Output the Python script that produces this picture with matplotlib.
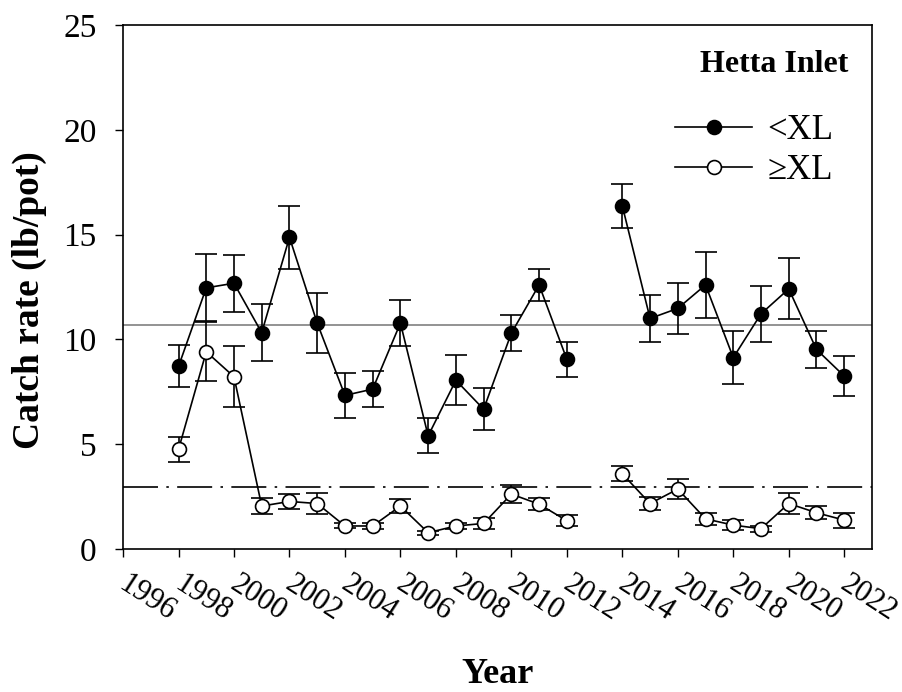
import matplotlib.pyplot as plt
from matplotlib.transforms import ScaledTranslation

plt.rcParams['font.family'] = ['Liberation Serif', 'DejaVu Serif']

# Hetta Inlet catch rates (lb/pot), mean and standard error
years = [1998, 1999, 2000, 2001, 2002, 2003, 2004, 2005, 2006, 2007, 2008, 2009,
         2010, 2011, 2012, 2014, 2015, 2016, 2017, 2018, 2019, 2020, 2021, 2022]
small = [8.71, 12.46, 12.68, 10.32, 14.87, 10.78, 7.33, 7.63, 10.78, 5.40, 8.05, 6.67,
         10.30, 12.60, 9.05, 16.37, 11.00, 11.48, 12.60, 9.13, 11.22, 12.41, 9.52, 8.25]
small_se = [1.00, 1.60, 1.35, 1.37, 1.50, 1.43, 1.08, 0.87, 1.10, 0.84, 1.20, 1.00,
            0.85, 0.78, 0.83, 1.06, 1.10, 1.22, 1.57, 1.26, 1.33, 1.45, 0.88, 0.95]
large = [4.75, 9.41, 8.22, 2.05, 2.27, 2.17, 1.10, 1.10, 2.05, 0.78, 1.10, 1.22,
         2.62, 2.14, 1.35, 3.59, 2.17, 2.86, 1.44, 1.14, 0.97, 2.17, 1.73, 1.38]
large_se = [0.60, 1.40, 1.45, 0.38, 0.37, 0.48, 0.12, 0.14, 0.33, 0.10, 0.15, 0.25,
            0.44, 0.30, 0.25, 0.36, 0.33, 0.48, 0.28, 0.25, 0.14, 0.48, 0.30, 0.36]
small_mean = 10.68
large_mean = 2.95

xticks = list(range(1996, 2023, 2))


def split_gap(xs, ys):
    # break the line where a year is missing
    segs = [[[xs[0]], [ys[0]]]]
    for i in range(1, len(xs)):
        if xs[i] - xs[i - 1] > 1:
            segs.append([[], []])
        segs[-1][0].append(xs[i])
        segs[-1][1].append(ys[i])
    return segs


fig = plt.figure(figsize=(9.02, 6.92), dpi=100)
ax = fig.add_axes([0.1364, 0.2066, 0.8303, 0.7573])

ax.axhline(small_mean, color='#808080', lw=1.2, zorder=1)
ax.axhline(large_mean, color='black', lw=1.2, dashes=(21, 5, 1.5, 5), zorder=1)

for vals, se, face, lab in [(small, small_se, 'black', '<XL'),
                            (large, large_se, 'white', '≥XL')]:
    ax.errorbar(years, vals, yerr=se, fmt='none', ecolor='black', elinewidth=1.2,
                capsize=8, capthick=1.2, zorder=2)
    for sx, sy in split_gap(years, vals):
        ax.plot(sx, sy, color='black', lw=1.2, zorder=3)
    ax.plot(years, vals, ls='none', marker='o', ms=10, mfc=face, mec='black',
            mew=1.2, zorder=4)
    ax.plot([], [], color='black', lw=1.2, marker='o', ms=10, mfc=face,
            mec='black', mew=1.2, label=lab)

ax.set_xlim(1996, 2023)
ax.set_ylim(0, 25)
ax.set_xticks(xticks)
ax.set_yticks([0, 5, 10, 15, 20, 25])
ax.tick_params(axis='y', labelsize=24, direction='out', length=6, width=1, pad=13)
ax.tick_params(axis='x', direction='out', length=6, width=1, pad=9)
ax.set_xticklabels([str(y) for y in xticks], rotation=-33, rotation_mode='anchor',
                   ha='left', va='top', fontsize=22)
# nudge the slanted year labels so they start at their tick
shift = ScaledTranslation(0.065, 0, fig.dpi_scale_trans)
for lbl in ax.get_xticklabels():
    lbl.set_transform(lbl.get_transform() + shift)
for s in ax.spines.values():
    s.set_linewidth(1.2)

ax.set_ylabel('Catch rate (lb/pot)', fontsize=27, fontweight='bold')
ax.yaxis.set_label_coords(-0.101, 0.475)
fig.text(0.552, 0.002, 'Year', fontsize=26, fontweight='bold', ha='center', va='bottom')
ax.text(0.968, 0.925, 'Hetta Inlet', transform=ax.transAxes, fontsize=23,
        fontweight='bold', ha='right', va='center')

ax.legend(loc='upper right', bbox_to_anchor=(0.967, 0.857), frameon=False,
          fontsize=25, handlelength=2.2, handletextpad=0.45, labelspacing=0.2,
          borderaxespad=0)

fig.savefig('out.png', dpi=100)
